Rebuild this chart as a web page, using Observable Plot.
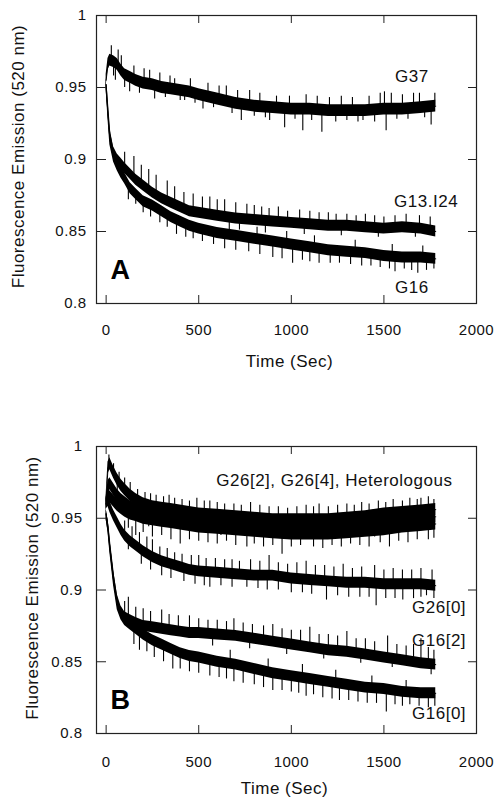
<!DOCTYPE html>
<html><head><meta charset="utf-8">
<script src="https://cdn.jsdelivr.net/npm/d3@7"></script>
<script src="https://cdn.jsdelivr.net/npm/@observablehq/plot@0.6"></script>
<style>
body{margin:0;background:#fff;}
#wrap{position:relative;width:494px;height:804px;background:#fff;}
#wrap svg{position:absolute;left:0;}
</style></head><body><div id="wrap"></div>
<script>
// ---- shared axes ----
const times = [0,10,20,40,60,80,100,130,160,200,250,300,350,400,450,500,600,700,800,900,1000,1100,1200,1300,1400,1500,1600,1700,1780];
const xTicks = [0,500,1000,1500,2000];
const yTicks = [0.8,0.85,0.9,0.95,1];
const yTickLabels = ["0.8","0.85","0.9","0.95","1"];

// ---- panel A ----
const seriesA = ["G37","G13.I24","G16"];
const g37 =    [0.955,0.966,0.969,0.968,0.966,0.962,0.959,0.957,0.955,0.953,0.952,0.950,0.949,0.948,0.947,0.945,0.942,0.939,0.937,0.936,0.935,0.935,0.934,0.934,0.934,0.935,0.935,0.936,0.937];
const g13i24 = [0.952,0.935,0.918,0.905,0.900,0.897,0.894,0.890,0.886,0.882,0.877,0.873,0.870,0.867,0.864,0.863,0.861,0.859,0.858,0.857,0.856,0.855,0.854,0.854,0.853,0.852,0.853,0.852,0.850];
const g16 =    [0.952,0.932,0.914,0.902,0.896,0.891,0.887,0.880,0.876,0.871,0.868,0.864,0.860,0.857,0.854,0.852,0.849,0.847,0.845,0.843,0.841,0.839,0.837,0.836,0.835,0.833,0.832,0.832,0.831];
const noiseA = [0.0041,0.0038,0.0038];
const spikesG37 = [[28,0.979],[40,0.958],[50,0.955],[65,0.976],[82,0.972],[100,0.950],[127,0.947],[150,0.965],[180,0.946],[205,0.963],[235,0.962],[262,0.942],[290,0.960],[320,0.943],[345,0.958],[370,0.956],[400,0.941],[424,0.941],[455,0.956],[480,0.939],[523,0.935],[550,0.953],[580,0.936],[610,0.951],[649,0.951],[680,0.932],[710,0.948],[730,0.927],[775,0.948],[800,0.930],[830,0.946],[860,0.929],[883,0.927],[920,0.944],[964,0.922],[990,0.944],[1020,0.928],[1062,0.920],[1080,0.945],[1110,0.927],[1140,0.944],[1165,0.919],[1206,0.943],[1240,0.926],[1270,0.944],[1300,0.927],[1330,0.943],[1360,0.926],[1387,0.927],[1420,0.944],[1450,0.926],[1480,0.946],[1503,0.947],[1512,0.920],[1540,0.946],[1570,0.928],[1600,0.945],[1630,0.928],[1660,0.946],[1692,0.946],[1720,0.929],[1755,0.924],[1775,0.946]];
const spikesG13 = [[100,0.905],[150,0.902],[190,0.896],[230,0.893],[270,0.889],[330,0.885],[370,0.881],[420,0.877],[470,0.876],[520,0.874],[560,0.874],[600,0.872],[640,0.872],[700,0.870],[760,0.869],[800,0.868],[840,0.867],[880,0.866],[930,0.867],[980,0.864],[1045,0.865],[1100,0.864],[1150,0.863],[1200,0.863],[1242,0.862],[1300,0.862],[1350,0.861],[1400,0.862],[1450,0.861],[1500,0.860],[1560,0.861],[1620,0.862],[1692,0.861],[1750,0.860],[720,0.851],[860,0.849],[1070,0.848],[1270,0.847],[1470,0.846],[1670,0.846]];
const spikesG16 = [[120,0.872],[160,0.869],[200,0.863],[240,0.860],[290,0.856],[330,0.853],[380,0.848],[430,0.846],[470,0.845],[520,0.843],[580,0.841],[640,0.838],[700,0.837],[770,0.836],[830,0.834],[900,0.832],[950,0.831],[1007,0.828],[1060,0.830],[1100,0.829],[1150,0.828],[1210,0.828],[1260,0.828],[1320,0.827],[1380,0.826],[1430,0.826],[1480,0.825],[1530,0.824],[1560,0.822],[1610,0.824],[1650,0.823],[1683,0.821],[1730,0.823],[1770,0.824],[665,0.857],[815,0.853],[975,0.850],[1125,0.847],[1345,0.844],[1545,0.841],[1710,0.840]];

// ---- panel B ----
const seriesB = ["G26[2]","G26[4]","Heterologous","G26[0]","G16[2]","G16[0]"];
const h1 =    [0.962,0.985,0.988,0.982,0.977,0.973,0.970,0.966,0.963,0.960,0.958,0.957,0.956,0.955,0.954,0.953,0.952,0.951,0.950,0.949,0.949,0.949,0.949,0.950,0.951,0.953,0.954,0.955,0.956];
const h2 =    [0.960,0.972,0.974,0.970,0.966,0.963,0.961,0.958,0.956,0.954,0.952,0.951,0.950,0.949,0.948,0.947,0.946,0.945,0.944,0.943,0.943,0.943,0.943,0.944,0.945,0.947,0.948,0.950,0.951];
const h3 =    [0.960,0.966,0.965,0.962,0.959,0.957,0.955,0.953,0.952,0.950,0.949,0.948,0.947,0.946,0.945,0.944,0.943,0.942,0.941,0.940,0.939,0.939,0.939,0.940,0.941,0.942,0.944,0.945,0.946];
const g26_0 = [0.960,0.962,0.958,0.952,0.947,0.942,0.938,0.934,0.931,0.927,0.923,0.920,0.918,0.916,0.914,0.913,0.912,0.911,0.910,0.910,0.908,0.907,0.906,0.905,0.905,0.904,0.904,0.904,0.903];
const g16_2 = [0.953,0.945,0.932,0.910,0.893,0.885,0.881,0.879,0.877,0.875,0.874,0.873,0.872,0.871,0.870,0.870,0.869,0.868,0.866,0.864,0.862,0.860,0.858,0.857,0.855,0.853,0.851,0.849,0.848];
const g16_0 = [0.953,0.944,0.930,0.907,0.890,0.883,0.879,0.876,0.873,0.869,0.865,0.862,0.859,0.856,0.854,0.853,0.850,0.848,0.845,0.842,0.840,0.838,0.836,0.834,0.832,0.831,0.829,0.828,0.828];
const noiseB = [0.0042,0.0042,0.0042,0.0038,0.0038,0.0038];
const spikesH1 = [[15,0.994],[40,0.988],[70,0.982],[100,0.978],[130,0.975],[170,0.970],[210,0.968],[240,0.967],[270,0.966],[310,0.965],[340,0.966],[370,0.964],[410,0.963],[450,0.962],[490,0.964],[530,0.962],[560,0.962],[600,0.961],[640,0.960],[690,0.960],[730,0.959],[780,0.961],[830,0.959],[880,0.958],[930,0.958],[980,0.957],[1030,0.958],[1080,0.959],[1120,0.958],[1150,0.960],[1200,0.958],[1250,0.959],[1300,0.960],[1340,0.959],[1380,0.961],[1420,0.960],[1470,0.962],[1510,0.961],[1550,0.963],[1600,0.962],[1640,0.964],[1680,0.963],[1700,0.964],[1740,0.965],[1770,0.963]];
const spikesH2 = [[60,0.978],[230,0.944],[450,0.958],[620,0.938],[850,0.953],[1050,0.935],[1250,0.955],[1450,0.937],[1650,0.958]];
const spikesH3 = [[120,0.943],[160,0.938],[200,0.940],[250,0.937],[300,0.938],[350,0.935],[400,0.932],[450,0.935],[500,0.934],[550,0.933],[600,0.932],[650,0.934],[700,0.931],[760,0.930],[800,0.932],[850,0.930],[900,0.931],[950,0.925],[1000,0.930],[1050,0.931],[1120,0.930],[1170,0.929],[1220,0.931],[1270,0.930],[1320,0.932],[1370,0.931],[1420,0.930],[1480,0.933],[1530,0.930],[1580,0.934],[1630,0.933],[1680,0.935],[1740,0.935],[1770,0.936]];
const spikesG26_0 = [[100,0.948],[140,0.944],[180,0.940],[220,0.937],[250,0.935],[290,0.930],[330,0.929],[370,0.926],[410,0.925],[460,0.924],[500,0.924],[540,0.922],[590,0.922],[640,0.921],[680,0.921],[720,0.920],[780,0.921],[830,0.920],[880,0.924],[930,0.919],[980,0.918],[1030,0.919],[1080,0.920],[1130,0.917],[1180,0.917],[1230,0.916],[1280,0.918],[1330,0.915],[1380,0.916],[1450,0.917],[1500,0.914],[1550,0.915],[1600,0.914],[1650,0.914],[1700,0.915],[1760,0.914],[120,0.928],[190,0.918],[240,0.914],[300,0.910],[350,0.908],[420,0.906],[480,0.904],[530,0.903],[560,0.902],[620,0.903],[680,0.902],[760,0.902],[820,0.901],[870,0.900],[930,0.900],[1000,0.898],[1060,0.898],[1110,0.897],[1190,0.893],[1250,0.896],[1310,0.895],[1370,0.895],[1420,0.895],[1458,0.889],[1510,0.894],[1560,0.894],[1602,0.893],[1660,0.894],[1700,0.895],[1730,0.896],[1770,0.894]];
const spikesG16_2 = [[100,0.892],[120,0.895],[160,0.888],[200,0.887],[240,0.885],[300,0.886],[340,0.883],[390,0.882],[450,0.882],[500,0.880],[550,0.879],[600,0.879],[650,0.878],[690,0.880],[740,0.877],[790,0.876],[850,0.875],[900,0.876],[950,0.873],[1000,0.872],[1050,0.872],[1100,0.874],[1150,0.869],[1200,0.869],[1250,0.868],[1300,0.871],[1350,0.866],[1400,0.866],[1450,0.864],[1520,0.868],[1570,0.862],[1620,0.861],[1660,0.862],[1700,0.866],[1740,0.860],[1770,0.858],[575,0.861],[775,0.859],[975,0.855],[1175,0.852],[1375,0.849],[1545,0.846],[1755,0.841]];
const spikesG16_0 = [[150,0.862],[180,0.858],[220,0.857],[260,0.853],[310,0.850],[360,0.845],[400,0.845],[450,0.843],[500,0.842],[560,0.840],[610,0.839],[650,0.838],[690,0.836],[740,0.835],[800,0.834],[850,0.832],[900,0.830],[950,0.830],[1000,0.829],[1040,0.828],[1080,0.826],[1120,0.827],[1170,0.825],[1220,0.824],[1260,0.823],[1310,0.823],[1360,0.822],[1410,0.821],[1460,0.821],[1513,0.815],[1560,0.820],[1600,0.819],[1640,0.820],[1690,0.819],[1740,0.818],[1775,0.819],[670,0.858],[875,0.852],[1060,0.848],[1240,0.844],[1435,0.840],[1620,0.837]];

function buildRows(names, valueLists, noise) {
  const rows = [];
  names.forEach((name, k) => times.forEach((t, i) => rows.push({series: name, t, v: valueLists[k][i], hw: noise[k]})));
  return rows;
}
// each read spike drawn as a vertical hair from the trace's mean to its tip
function buildSpikes(names, valueLists, spikeLists) {
  const rows = [];
  names.forEach((name, k) => {
    const mean = d3.scaleLinear().domain(times).range(valueLists[k]);
    spikeLists[k].forEach(([t, tip]) => rows.push({series: name, t, tip, base: mean(t)}));
  });
  return rows;
}

const FRAME_W = 380;
function panel({rows, spikes, frameH, height, marginTop, marginBottom, tickPad, yPad, titleDx, titleDy, yTitleDx, yTitleDy, letter, labels}) {
  const yLabel = new Map(yTicks.map((d, i) => [d, yTickLabels[i]]));
  return Plot.plot({
    width: 494, height, marginTop, marginBottom, marginLeft: 96, marginRight: 18,
    x: {domain: [-52, 2000]},
    y: {domain: [0.8, 1]},
    style: {fontFamily: "'Liberation Sans', Arial, sans-serif", fontSize: "15px", color: "#111", background: "white", overflow: "visible", letterSpacing: "0.5px"},
    marks: [
      Plot.areaY(rows, {x: "t", y1: d => d.v - d.hw, y2: d => d.v + d.hw, z: "series", fill: "black"}),
      Plot.lineY(rows, {x: "t", y: "v", z: "series", stroke: "black", strokeWidth: 1}),
      Plot.ruleX(spikes, {x: "t", y1: "base", y2: "tip", stroke: "black", strokeWidth: 1.1}),
      Plot.frame({stroke: "#222", strokeWidth: 1.2}),
      Plot.tickX(xTicks, {x: d => d, insetTop: frameH - 8, stroke: "#222"}),
      Plot.tickX(xTicks, {x: d => d, insetBottom: frameH - 8, stroke: "#222"}),
      Plot.tickY(yTicks, {y: d => d, insetRight: FRAME_W - 10, stroke: "#222"}),
      Plot.tickY(yTicks, {y: d => d, insetLeft: FRAME_W - 8, stroke: "#222"}),
      Plot.axisX(xTicks, {tickSize: 0, tickPadding: tickPad, label: null, tickFormat: d => String(d)}),
      Plot.axisY(yTicks, {tickSize: 0, tickPadding: yPad, label: null, tickFormat: d => yLabel.get(d)}),
      Plot.text(["Time (Sec)"], {frameAnchor: "bottom", text: d => d, dx: titleDx, dy: titleDy, fontSize: 17, fontWeight: "normal"}),
      Plot.text(["Fluorescence Emission (520 nm)"], {frameAnchor: "left", text: d => d, rotate: -90, textAnchor: "middle", dx: yTitleDx, dy: yTitleDy, fontSize: 17}),
      Plot.text([letter], {frameAnchor: "bottom-left", text: d => d, dx: 14, dy: -25, fontSize: 27, fontWeight: "bold", textAnchor: "start", fill: "black"}),
      Plot.text(labels, {x: "t", y: "v", text: "text", textAnchor: "start", fontSize: 17})
    ]
  });
}

const valsA = [g37, g13i24, g16];
const valsB = [h1, h2, h3, g26_0, g16_2, g16_0];
const svgA = panel({rows: buildRows(seriesA, valsA, noiseA), spikes: buildSpikes(seriesA, valsA, [spikesG37, spikesG13, spikesG16]),
  frameH: 288, height: 400, marginTop: 15, marginBottom: 97,
  tickPad: 21, yPad: 10, titleDx: 3, titleDy: 63, yTitleDx: -78, yTitleDy: -3, letter: "A",
  labels: [
    {t: 1560, v: 0.9576, text: "G37"},
    {t: 1555, v: 0.8708, text: "G13.I24"},
    {t: 1560, v: 0.8111, text: "G16"}
  ]});
const svgB = panel({rows: buildRows(seriesB, valsB, noiseB), spikes: buildSpikes(seriesB, valsB, [spikesH1, spikesH2, spikesH3, spikesG26_0, spikesG16_2, spikesG16_0]),
  frameH: 287, height: 404, marginTop: 46, marginBottom: 71,
  tickPad: 23, yPad: 14, titleDx: -2, titleDy: 60, yTitleDx: -64, yTitleDy: -2, letter: "B",
  labels: [
    {t: 595, v: 0.9763, text: "G26[2], G26[4], Heterologous"},
    {t: 1652, v: 0.888, text: "G26[0]"},
    {t: 1652, v: 0.8648, text: "G16[2]"},
    {t: 1652, v: 0.8139, text: "G16[0]"}
  ]});
svgA.style.top = "0px";
svgB.style.top = "400px";
document.getElementById("wrap").append(svgA, svgB);
</script>
</body></html>
